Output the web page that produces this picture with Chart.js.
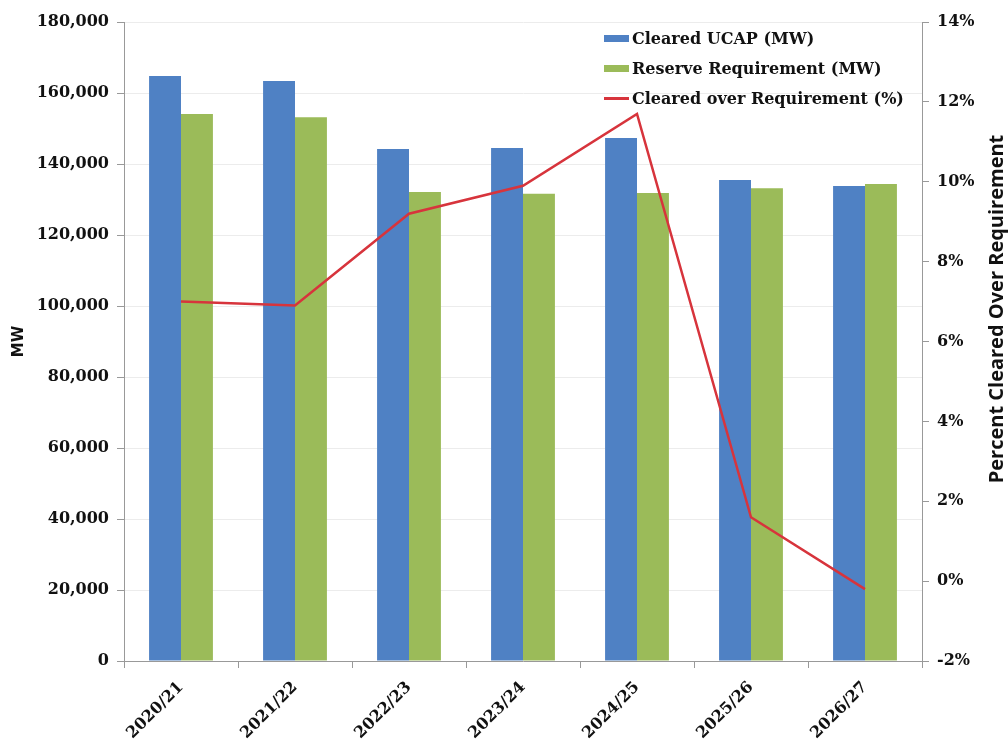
<!DOCTYPE html>
<html>
<head>
<meta charset="utf-8">
<script src="https://cdn.jsdelivr.net/npm/chart.js@4.4.1/dist/chart.umd.min.js"></script>
<style>
  html, body { margin: 0; padding: 0; background: #fff; }
  #wrap { position: relative; width: 1008px; height: 742px; }
  #legend { position: absolute; left: 604px; top: 23px; font: bold 16px "DejaVu Serif", serif; color: #111; }
  .lg-row { display: flex; align-items: center; height: 30px; }
  .lg-sw { width: 25px; margin-right: 3px; }
</style>
</head>
<body>
<div id="wrap">
  <canvas id="c" width="1008" height="742"></canvas>
  <div id="legend"></div>
</div>
<script>
(function () {
  "use strict";

  /* ── Data ── */
  const years = ['2020/21', '2021/22', '2022/23', '2023/24', '2024/25', '2025/26', '2026/27'];
  const clearedUcap = [164800, 163400, 144200, 144500, 147300, 135500, 133800];
  const reserveReq  = [154100, 153200, 132100, 131600, 131800, 133200, 134400];
  const clearedOverPct = [7.0, 6.9, 9.2, 9.9, 11.7, 1.6, -0.2];

  const leftTitle = 'MW';
  const rightTitle = 'Percent Cleared Over Requirement';

  const BLUE = '#4F81C4', GREEN = '#9BBB59', RED = '#D7343C';
  const tickFont = { family: '"DejaVu Serif", serif', size: 16, weight: 'bold' };

  /* ── Axis titles, both read bottom-to-top ── */
  const axisTitles = {
    id: 'axisTitles',
    afterDraw(chart) {
      const { ctx, chartArea } = chart;
      const midY = (chartArea.top + chartArea.bottom) / 2;
      ctx.save();
      ctx.fillStyle = '#111';
      ctx.textAlign = 'center';
      ctx.textBaseline = 'middle';

      ctx.save();
      ctx.translate(19, midY);
      ctx.rotate(-Math.PI / 2);
      ctx.font = 'bold 15px "DejaVu Sans", sans-serif';
      ctx.fillText(leftTitle, 0, 0);
      ctx.restore();

      ctx.save();
      ctx.translate(997, 309);
      ctx.rotate(-Math.PI / 2);
      ctx.font = 'bold 20px "Liberation Sans Narrow", "Open Sans", sans-serif';
      ctx.fillText(rightTitle, 0, 0);
      ctx.restore();

      ctx.restore();
    }
  };

  const chart = new Chart(document.getElementById('c'), {
    data: {
      labels: years,
      datasets: [
        { type: 'line', label: 'Cleared over Requirement (%)', data: clearedOverPct, yAxisID: 'y1',
          borderColor: RED, backgroundColor: RED, borderWidth: 2.5, pointRadius: 0, tension: 0, order: 0 },
        { type: 'bar', label: 'Cleared UCAP (MW)', data: clearedUcap, yAxisID: 'y',
          backgroundColor: BLUE, categoryPercentage: 0.56, barPercentage: 1, order: 1 },
        { type: 'bar', label: 'Reserve Requirement (MW)', data: reserveReq, yAxisID: 'y',
          backgroundColor: GREEN, categoryPercentage: 0.56, barPercentage: 1, order: 1 }
      ]
    },
    options: {
      responsive: false, animation: false,
      layout: { padding: { top: 22, left: 0, right: 0, bottom: 0 } },
      plugins: { legend: { display: false }, tooltip: { enabled: false } },
      scales: {
        x: {
          offset: true,
          grid: { drawOnChartArea: false, offset: true, tickLength: 7, tickColor: '#999' },
          border: { color: '#999' },
          ticks: { font: tickFont, color: '#111', minRotation: 45, maxRotation: 45, padding: 10 },
          afterFit: s => { s.height = 81; }
        },
        y: {
          position: 'left', min: 0, max: 180000,
          ticks: { stepSize: 20000, font: tickFont, color: '#111', padding: 8,
                   callback: v => v.toLocaleString('en-US') },
          grid: { color: '#ececec', tickLength: 7, tickColor: '#999' },
          border: { color: '#999' },
          afterFit: s => { s.width = 124; }
        },
        y1: {
          position: 'right', min: -2, max: 14,
          ticks: { stepSize: 2, font: tickFont, color: '#111', padding: 8, callback: v => v + '%' },
          grid: { drawOnChartArea: false, tickLength: 7, tickColor: '#999' },
          border: { color: '#999' },
          afterFit: s => { s.width = 86; }
        }
      }
    },
    plugins: [axisTitles]
  });

  /* ── Legend (HTML, built from datasets) ── */
  const lg = document.getElementById('legend');
  [1, 2, 0].forEach(i => {
    const ds = chart.data.datasets[i];
    const sw = ds.type === 'line'
      ? `<span class="lg-sw" style="height:3px;background:${ds.borderColor};"></span>`
      : `<span class="lg-sw" style="height:7px;background:${ds.backgroundColor};"></span>`;
    lg.innerHTML += `<div class="lg-row">${sw}<span>${ds.label}</span></div>`;
  });
})();
</script>
</body>
</html>
